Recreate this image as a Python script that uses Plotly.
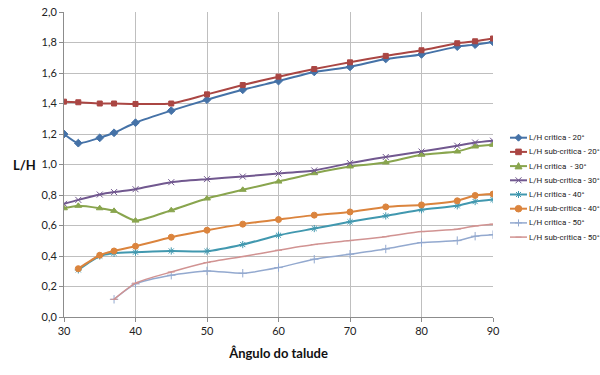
import plotly.graph_objects as go

angles = [30, 32, 35, 37, 40, 45, 50, 55, 60, 65, 70, 75, 80, 85, 87.5, 90]

crit_20 = [1.20, 1.14, 1.175, 1.208, 1.274, 1.353, 1.425, 1.49, 1.547, 1.607, 1.64, 1.692, 1.722, 1.773, 1.786, 1.804]
sub_20 = [1.412, 1.408, 1.40, 1.40, 1.397, 1.40, 1.46, 1.521, 1.576, 1.626, 1.67, 1.712, 1.749, 1.795, 1.808, 1.826]
crit_30 = [0.713, 0.729, 0.713, 0.696, 0.632, 0.70, 0.777, 0.834, 0.888, 0.943, 0.987, 1.013, 1.064, 1.085, 1.118, 1.129]
sub_30 = [0.742, 0.768, 0.803, 0.819, 0.838, 0.884, 0.904, 0.921, 0.941, 0.961, 1.009, 1.049, 1.085, 1.123, 1.144, 1.156]

angles_40 = [32, 35, 37, 40, 45, 50, 55, 60, 65, 70, 75, 80, 85, 87.5, 90]
crit_40 = [0.309, 0.40, 0.418, 0.425, 0.433, 0.431, 0.475, 0.536, 0.58, 0.624, 0.663, 0.703, 0.729, 0.757, 0.77]
sub_40 = [0.317, 0.405, 0.433, 0.464, 0.523, 0.569, 0.609, 0.639, 0.668, 0.689, 0.722, 0.735, 0.762, 0.797, 0.806]

angles_50 = [37, 40, 45, 50, 55, 60, 65, 70, 75, 80, 85, 87.5, 90]
crit_50 = [0.116, 0.217, 0.274, 0.302, 0.287, 0.324, 0.379, 0.412, 0.446, 0.488, 0.501, 0.53, 0.54]
sub_50 = [0.116, 0.222, 0.295, 0.357, 0.396, 0.438, 0.475, 0.501, 0.527, 0.56, 0.576, 0.597, 0.609]

series_names = [
    "L/H critica - 20°", "L/H sub-critica - 20°", "L/H critica  - 30°", "L/H sub-critica - 30°",
    "L/H critica - 40°", "L/H sub-critica - 40°", "L/H critica - 50°", "L/H sub-critica - 50°",
]
series_x = [angles, angles, angles, angles, angles_40, angles_40, angles_50, angles_50]
series_y = [crit_20, sub_20, crit_30, sub_30, crit_40, sub_40, crit_50, sub_50]

colors = ["#4572A7", "#AA4643", "#89A54E", "#71588F", "#4198AF", "#DB843D", "#93A9CF", "#D19392"]
symbols = ["diamond", "square", "triangle-up", "x-thin-open", "asterisk-open", "circle",
           "cross-thin-open", "line-ew-open"]
sizes = [6, 5, 6, 6, 6, 6, 6, 5]
widths = [2, 2, 2, 2, 2, 2, 1.5, 1.5]

# legend key glyphs as pixel paths (relative to the key centre); None -> circle
key_paths = [
    ("M-3.5,0 L0,3.5 L3.5,0 L0,-3.5 Z", True),
    ("M-2.8,-2.8 L2.8,-2.8 L2.8,2.8 L-2.8,2.8 Z", True),
    ("M-3.5,-2.8 L3.5,-2.8 L0,3.5 Z", True),
    ("M-3,-3 L3,3 M-3,3 L3,-3", False),
    ("M-3.5,0 L3.5,0 M0,-3.5 L0,3.5 M-2.5,-2.5 L2.5,2.5 M-2.5,2.5 L2.5,-2.5", False),
    (None, True),
    ("M-3.5,0 L3.5,0 M0,-3.5 L0,3.5", False),
    ("M-3,0 L3,0", False),
]

fig = go.Figure()
for name, xs, ys, color, sym, size, w in zip(series_names, series_x, series_y, colors, symbols, sizes, widths):
    fig.add_trace(go.Scatter(
        x=xs, y=ys, name=name, mode="lines+markers", showlegend=False,
        line=dict(color=color, width=w, shape="spline", smoothing=0.6),
        marker=dict(symbol=sym, size=size, color=color, line=dict(color=color, width=1)),
    ))

# plot area geometry in pixels
L, R, T, B = 64, 493, 12, 317
W, H = R - L, B - T


def px_x(p):
    return (p - L) / W


def px_y(p):
    return (B - p) / H


legend_top, legend_step = 137.7, 14.2
for i, (name, color, w) in enumerate(zip(series_names, colors, widths)):
    yc = px_y(legend_top + i * legend_step)
    fig.add_shape(type="line", xref="paper", yref="paper", x0=px_x(510), x1=px_x(527),
                  y0=yc, y1=yc, line=dict(color=color, width=w))
    path, filled = key_paths[i]
    if path is None:
        fig.add_shape(type="circle", xref="paper", yref="paper", xsizemode="pixel", ysizemode="pixel",
                      xanchor=px_x(518.5), yanchor=yc, x0=-3.3, x1=3.3, y0=-3.3, y1=3.3,
                      fillcolor=color, line=dict(color=color, width=1))
    else:
        fig.add_shape(type="path", xref="paper", yref="paper", xsizemode="pixel", ysizemode="pixel",
                      xanchor=px_x(518.5), yanchor=yc, path=path,
                      fillcolor=color if filled else "rgba(0,0,0,0)",
                      line=dict(color=color, width=1))
    fig.add_annotation(text=name, xref="paper", yref="paper", x=px_x(527), y=yc,
                       xanchor="left", yanchor="middle", showarrow=False,
                       font=dict(size=8, family="Roboto, Liberation Sans", color="#222"))

fig.update_layout(
    width=600, height=375,
    margin=dict(l=L, r=600 - R, t=T, b=375 - B, autoexpand=False),
    paper_bgcolor="white", plot_bgcolor="white",
    separators=", ",
    font=dict(family="Lato, Liberation Sans, sans-serif", size=11, color="#222"),
    showlegend=False,
)
fig.update_xaxes(
    range=[30, 90], tickvals=[30, 40, 50, 60, 70, 80, 90],
    showgrid=True, gridcolor="#bfbfbf", gridwidth=1,
    showline=True, linecolor="#8c8c8c", ticks="outside", ticklen=4, tickcolor="#8c8c8c",
    zeroline=False,
    title=dict(text="<b>Ângulo do talude</b>", font=dict(size=13, color="#111"), standoff=12),
)
fig.update_yaxes(
    range=[0, 2.0], dtick=0.2, tickformat=".1f",
    showgrid=True, gridcolor="#bfbfbf", gridwidth=1,
    showline=True, linecolor="#8c8c8c", ticks="outside", ticklen=4, tickcolor="#8c8c8c",
    zeroline=False,
)
fig.add_annotation(text="<b>L/H</b>", xref="paper", yref="paper", x=-0.061, y=0.5,
                   xanchor="right", yanchor="middle", showarrow=False,
                   font=dict(size=13, color="#111"))

fig.write_html("out.html", config={"displayModeBar": False},
               post_script="document.body.style.margin='0';document.body.style.overflow='hidden';")
